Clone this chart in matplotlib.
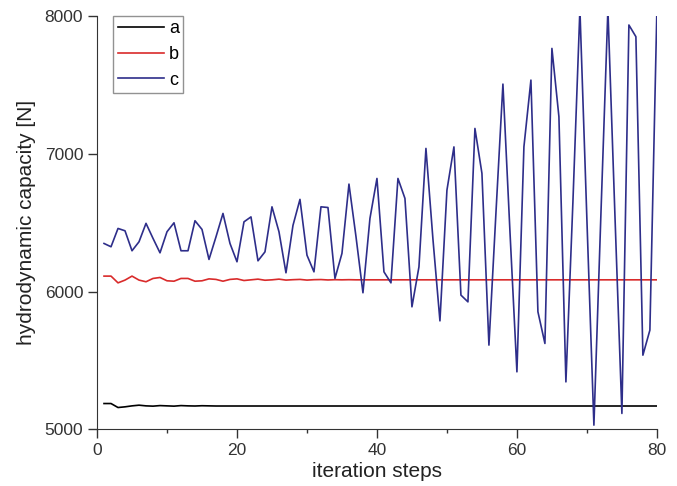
import matplotlib
matplotlib.use('Agg')
import matplotlib.pyplot as plt
from matplotlib.ticker import MultipleLocator

plt.rcParams['font.family'] = ['Liberation Sans', 'DejaVu Sans']

# iteration steps 1..80
steps = list(range(1, 81))

# a: settles quickly around 5170
a = [5187, 5187, 5158, 5163, 5170, 5175, 5170, 5168, 5172, 5170,
     5168, 5172, 5170, 5169, 5171, 5170] + [5169] * 64

# b: small oscillation, settles around 6085
b = [6112, 6112, 6063, 6083, 6112, 6083, 6071, 6095, 6102, 6078,
     6075, 6095, 6095, 6075, 6078, 6092, 6088, 6075, 6088, 6092,
     6080, 6085, 6090, 6082, 6085, 6090, 6083, 6086, 6088, 6083,
     6086, 6087, 6084, 6086, 6085, 6086, 6085, 6085] + [6085] * 42

# c: growing oscillation
c = [6349, 6325, 6458, 6441, 6296, 6361, 6495, 6386, 6281, 6434,
     6499, 6296, 6296, 6514, 6451, 6233, 6397, 6567, 6349, 6216,
     6506, 6542, 6223, 6288, 6615, 6434, 6136, 6480, 6669, 6264,
     6143, 6615, 6610, 6095, 6277, 6780, 6400, 5991, 6531, 6821,
     6143, 6063, 6821, 6676, 5889, 6179, 7039, 6380, 5787, 6736,
     7050, 5974, 5925, 7184, 6858, 5611, 6569, 7506, 6440, 5417,
     7051, 7535, 5853, 5623, 7765, 7269, 5344, 6650, 8050, 6520,
     5030, 6560, 8050, 6560, 5115, 7935, 7850, 5538, 5720, 8050]

fig = plt.figure(figsize=(6.77, 4.86), dpi=100)
ax = fig.add_axes([0.1433, 0.1167, 0.827, 0.8503])

ax.plot(steps, a, color='black', lw=1.2, label='a')
ax.plot(steps, b, color='#d92b2b', lw=1.2, label='b')
ax.plot(steps, c, color='#2e2e8a', lw=1.2, label='c')

ax.set_xlim(0, 80)
ax.set_ylim(5000, 8000)
ax.xaxis.set_major_locator(MultipleLocator(20))
ax.xaxis.set_minor_locator(MultipleLocator(10))
ax.yaxis.set_major_locator(MultipleLocator(1000))
ax.tick_params(which='major', direction='out', length=6.5, width=1, labelsize=12.5, colors='#333333')
ax.tick_params(which='minor', direction='out', length=3, width=1, colors='#333333')
ax.spines['top'].set_visible(False)
ax.spines['right'].set_visible(False)
for s in ('left', 'bottom'):
    ax.spines[s].set_color('#333333')

ax.set_xlabel('iteration steps', fontsize=15, color='#222222', labelpad=3)
ax.set_ylabel('hydrodynamic capacity [N]', fontsize=15, color='#222222', labelpad=6)

leg = ax.legend(loc='upper left', bbox_to_anchor=(0.029, 1.0), borderaxespad=0,
                fancybox=False, edgecolor='#777777', fontsize=13, handlelength=2.55,
                labelspacing=0.48, borderpad=0.24, handletextpad=0.3)
leg.get_frame().set_linewidth(1.0)

fig.savefig('out.png', dpi=100)
